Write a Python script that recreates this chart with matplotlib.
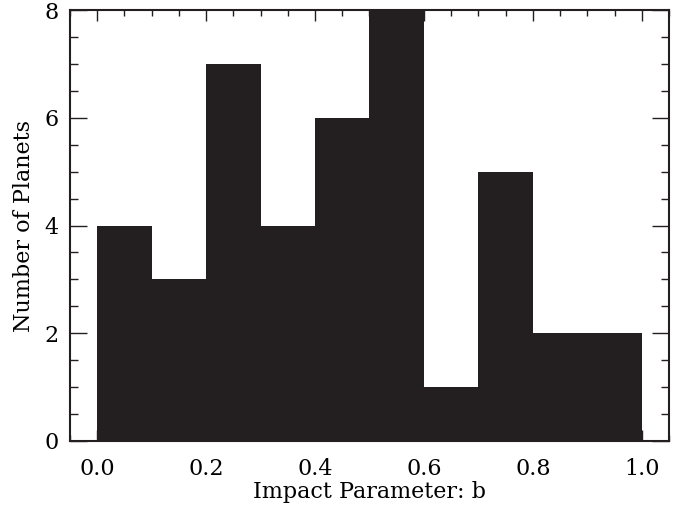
import numpy as np
import matplotlib.pyplot as plt

# histogram of impact parameters, bins of 0.1
bin_edges = [0.0, 0.1, 0.2, 0.3, 0.4, 0.5, 0.6, 0.7, 0.8, 0.9, 1.0]
counts = [4, 3, 7, 4, 6, 8, 1, 5, 2, 2]

plt.rcParams['font.family'] = 'DejaVu Serif'

fig = plt.figure(figsize=(6.88, 5.08), dpi=100)
ax = fig.add_axes([0.1017, 0.1319, 0.8707, 0.8484])

# bars sit above the ticks but below the frame
ax.stairs(counts, bin_edges, fill=True, color='#231f20', baseline=0, zorder=2)

ax.set_xlim(-0.05, 1.05)
ax.set_ylim(0, 8)
ax.set_xticks(np.arange(0, 1.01, 0.2))
ax.set_xticks(np.arange(-0.05, 1.06, 0.05), minor=True)
ax.set_yticks([0, 2, 4, 6, 8])
ax.set_yticks(np.arange(0, 8.01, 0.5), minor=True)
ax.xaxis.set_major_formatter(plt.FormatStrFormatter('%.1f'))

ax.tick_params(axis='both', which='both', direction='in', top=True, right=True,
               labelsize=16, color='#231f20', width=1)
ax.tick_params(axis='x', which='major', length=8, pad=12)
ax.tick_params(axis='x', which='minor', length=4)
ax.tick_params(axis='y', which='major', length=12, pad=8)
ax.tick_params(axis='y', which='minor', length=6)
for s in ax.spines.values():
    s.set_linewidth(1.5)
    s.set_color('#231f20')
    s.set_zorder(2.5)

ax.set_xlabel("Impact Parameter: b", fontsize=16, labelpad=1)
ax.set_ylabel("Number of Planets", fontsize=16, labelpad=7)

plt.savefig("out.png")
